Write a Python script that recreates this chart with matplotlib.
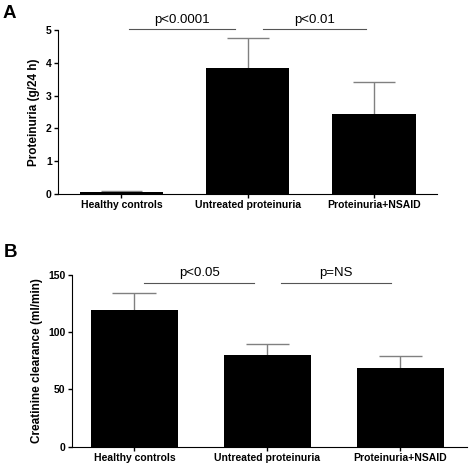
import matplotlib.pyplot as plt
import numpy as np

plt.rcParams['font.family'] = ['Liberation Sans', 'DejaVu Sans']

groups = ['Healthy controls', 'Untreated proteinuria', 'Proteinuria+NSAID']

# panel A: proteinuria (g/24 h)
prot_mean = [0.06, 3.83, 2.43]
prot_err = [0.04, 0.92, 0.98]

# panel B: creatinine clearance (ml/min)
clear_mean = [119.5, 80.5, 68.5]
clear_err = [15.0, 9.5, 10.5]

# significance brackets: (x start, x end, label)
sig_a = [(0.06, 0.90, 'p<0.0001'), (1.12, 1.94, 'p<0.01')]
sig_b = [(0.075, 0.90, 'p<0.05'), (1.105, 1.93, 'p=NS')]

fig = plt.figure(figsize=(4.7, 4.66), dpi=100)
ax_a = fig.add_axes([0.1234, 0.5837, 0.8066, 0.3519])
ax_b = fig.add_axes([0.153, 0.0414, 0.8406, 0.3686])

width = 0.66
x = np.arange(len(groups))


def draw_panel(ax, means, errs, sigs, ylim, yticks, ylabel, sig_y, xlim):
    ax.bar(x, means, width=width, color='black', zorder=2)
    tops = np.array(means) + np.array(errs)
    ax.vlines(x, means, tops, color='#808080', lw=1, zorder=1)
    ax.hlines(tops, x - width / 4, x + width / 4, color='#808080', lw=1, zorder=1)
    for x0, x1, lab in sigs:
        ax.plot([x0, x1], [sig_y, sig_y], color='#555555', lw=0.8, clip_on=False)
        ax.annotate(lab, ((x0 + x1) / 2, sig_y), xytext=(0, 2.5),
                    textcoords='offset points', ha='center', va='bottom',
                    fontsize=9.5, annotation_clip=False)
    ax.set_xlim(*xlim)
    ax.set_ylim(*ylim)
    ax.set_yticks(yticks)
    ax.set_xticks(x)
    ax.set_xticklabels(groups, fontweight='bold', fontsize=7.5)
    for t in ax.get_yticklabels():
        t.set_fontweight('bold')
        t.set_fontsize(7.5)
    ax.set_ylabel(ylabel, fontweight='bold', fontsize=8.5)
    ax.spines['top'].set_visible(False)
    ax.spines['right'].set_visible(False)
    ax.tick_params(axis='both', direction='out', length=3, width=1, pad=1.5)


draw_panel(ax_a, prot_mean, prot_err, sig_a, (0, 5), [0, 1, 2, 3, 4, 5],
           'Proteinuria (g/24 h)', 5.03, (-0.503, 2.5))
draw_panel(ax_b, clear_mean, clear_err, sig_b, (0, 150), [0, 50, 100, 150],
           'Creatinine clearance (ml/min)', 143, (-0.47, 2.5))

fig.text(0.006, 0.99, 'A', fontsize=13.5, fontweight='bold', va='top')
fig.text(0.008, 0.477, 'B', fontsize=13.5, fontweight='bold', va='top')

fig.savefig('out.png', dpi=100)
